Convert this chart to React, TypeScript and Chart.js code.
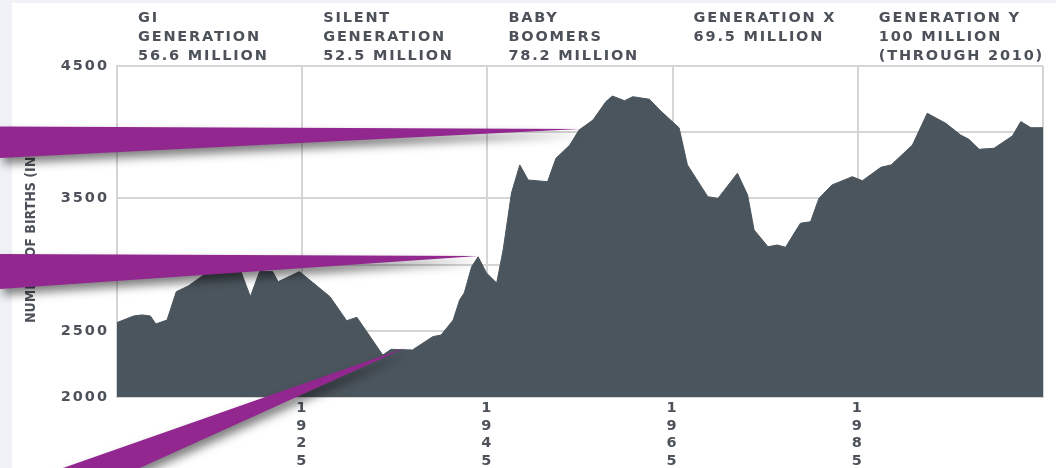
import React, { useEffect, useRef } from 'react';
import { Chart, registerables } from 'chart.js';

Chart.register(...registerables);

// ---- data ----
const years = [
  1905.0, 1906.8, 1907.7, 1908.6, 1909.2, 1910.4, 1911.4, 1912.7, 1913.6, 1914.6,
  1918.4, 1919.4, 1920.4, 1921.8, 1922.4, 1924.7, 1928.0, 1929.8, 1930.9, 1933.7,
  1934.6, 1936.9, 1939.1, 1940.0, 1941.3, 1942.0, 1942.5, 1943.3, 1944.0, 1944.9,
  1946.0, 1946.7, 1947.6, 1948.5, 1949.4, 1951.5, 1952.4, 1953.9, 1954.9, 1956.4,
  1957.8, 1958.5, 1959.8, 1960.7, 1962.5, 1963.6, 1965.7, 1966.6, 1968.8, 1969.9,
  1972.0, 1973.1, 1973.8, 1975.3, 1976.3, 1977.2, 1978.8, 1979.9, 1980.8, 1982.2,
  1984.4, 1985.5, 1987.5, 1988.6, 1990.9, 1992.5, 1994.5, 1996.1, 1997.0, 1998.1,
  1999.7, 2001.7, 2002.6, 2003.7, 2005.0,
];
const births = [
  2562, 2612, 2620, 2612, 2552, 2581, 2795, 2839, 2884, 2933,
  2945, 2758, 2947, 2947, 2871, 2947, 2758, 2576, 2602, 2317,
  2360, 2355, 2456, 2468, 2581, 2733, 2786, 2984, 3059, 2937,
  2861, 3111, 3541, 3753, 3639, 3626, 3803, 3903, 4017, 4092,
  4231, 4273, 4238, 4268, 4249, 4168, 4033, 3753, 3513, 3500,
  3690, 3526, 3262, 3135, 3148, 3131, 3312, 3324, 3500, 3601,
  3664, 3634, 3735, 3753, 3903, 4143, 4067, 3979, 3946, 3871,
  3878, 3972, 4080, 4034, 4034,
];

const yMin = 2000;
const yMax = 4500;
const yStep = 500;
const yLabeled = [2000, 2500, 3500, 4500];
const xMin = 1905;
const xMax = 2005;
const gridYears = [1905, 1925, 1945, 1965, 1985, 2005];
const labeledYears = [1925, 1945, 1965, 1985];

const generationStarts = [1905, 1925, 1945, 1965, 1985];
const generationLabels = [
  ['GI', 'GENERATION', '56.6 MILLION'],
  ['SILENT', 'GENERATION', '52.5 MILLION'],
  ['BABY', 'BOOMERS', '78.2 MILLION'],
  ['GENERATION X', '69.5 MILLION'],
  ['GENERATION Y', '100 MILLION', '(THROUGH 2010)'],
];
const yAxisTitle = 'NUMBER OF BIRTHS (IN K)';

// purple pointers: tips point at data positions
const pointerTipYears = [1955.0, 1944.0, 1936.1];
const pointerTipBirths = [4024, 3065, 2370];

const TEXT = '#4d525a';
const FILL = '#4b555d';
const GRID = '#d5d5d5';
const PURPLE = '#92278f';
const LABEL_FONT = 'bold 14.5px "DejaVu Sans", sans-serif';

const decorPlugin = {
  id: 'decor',
  beforeDraw(chart: any) {
    const ctx = chart.ctx as CanvasRenderingContext2D;
    ctx.save();
    ctx.fillStyle = '#f1f2f7';
    ctx.fillRect(0, 0, chart.width, chart.height);
    ctx.fillStyle = '#ffffff';
    ctx.fillRect(12, 3, chart.width - 12, chart.height - 3);
    ctx.restore();
    (ctx as any).letterSpacing = '2px';
  },
  afterDraw(chart: any) {
    const ctx = chart.ctx as CanvasRenderingContext2D;
    const xs = chart.scales.x;
    const ys = chart.scales.y;

    // generation labels
    ctx.save();
    (ctx as any).letterSpacing = '1.8px';
    ctx.font = LABEL_FONT;
    ctx.fillStyle = TEXT;
    ctx.textAlign = 'left';
    ctx.textBaseline = 'middle';
    generationLabels.forEach((lines, i) => {
      const x = xs.getPixelForValue(generationStarts[i]) + 21;
      lines.forEach((line, j) => {
        ctx.fillText(line, x, 18 + j * 19);
      });
    });
    ctx.restore();

    // y-axis title
    ctx.save();
    (ctx as any).letterSpacing = '0px';
    ctx.font = 'bold 14px "Liberation Sans Narrow", "DejaVu Sans Condensed", sans-serif';
    ctx.fillStyle = TEXT;
    ctx.translate(31, 323);
    ctx.rotate(-Math.PI / 2);
    ctx.textAlign = 'left';
    ctx.textBaseline = 'middle';
    ctx.fillText(yAxisTitle, 0, 0);
    ctx.restore();

    // purple pointers
    const tips = pointerTipYears.map((yr, i) => [
      xs.getPixelForValue(yr),
      ys.getPixelForValue(pointerTipBirths[i]),
    ]);
    const shapes = [
      [[0, 126.5], tips[0], [0, 158]],
      [[0, 254], tips[1], [0, 289]],
      [[0.3, 490], tips[2], [91, 490]],
    ];
    ctx.save();
    ctx.fillStyle = PURPLE;
    ctx.shadowColor = 'rgba(0,0,0,0.5)';
    ctx.shadowBlur = 10;
    ctx.shadowOffsetX = 3;
    ctx.shadowOffsetY = 6;
    shapes.forEach((pts) => {
      ctx.beginPath();
      ctx.moveTo(pts[0][0], pts[0][1]);
      ctx.lineTo(pts[1][0], pts[1][1]);
      ctx.lineTo(pts[2][0], pts[2][1]);
      ctx.closePath();
      ctx.fill();
    });
    ctx.restore();
  },
};

export default function App() {
  const canvasRef = useRef<HTMLCanvasElement | null>(null);

  useEffect(() => {
    const canvas = canvasRef.current;
    if (!canvas) return;
    const chart = new Chart(canvas, {
      type: 'line',
      data: {
        datasets: [
          {
            data: years.map((y, i) => ({ x: y, y: births[i] })),
            fill: 'start',
            backgroundColor: FILL,
            borderColor: FILL,
            borderWidth: 1,
            pointRadius: 0,
            tension: 0,
          },
        ],
      },
      options: {
        animation: false,
        responsive: false,
        layout: { padding: { top: 66, right: 13, left: 0, bottom: 0 } },
        plugins: {
          legend: { display: false },
          tooltip: { enabled: false },
        },
        scales: {
          x: {
            type: 'linear',
            min: xMin,
            max: xMax,
            afterBuildTicks: (scale: any) => {
              scale.ticks = gridYears.map((v) => ({ value: v }));
            },
            afterFit: (scale: any) => {
              scale.height = 71;
            },
            grid: { color: GRID, lineWidth: 2, drawTicks: false },
            border: { color: GRID, width: 2 },
            ticks: {
              autoSkip: false,
              maxRotation: 0,
              padding: 3,
              color: TEXT,
              font: { family: '"DejaVu Sans", sans-serif', size: 14.5, weight: 'bold', lineHeight: 1.2 },
              callback: (v: any) =>
                labeledYears.includes(Number(v)) ? String(v).split('') : '',
            },
          },
          y: {
            min: yMin,
            max: yMax,
            afterFit: (scale: any) => {
              scale.width = 117;
            },
            grid: { color: GRID, lineWidth: 2, drawTicks: false },
            border: { color: GRID, width: 2 },
            ticks: {
              stepSize: yStep,
              padding: 8,
              color: TEXT,
              font: { family: '"DejaVu Sans", sans-serif', size: 14.5, weight: 'bold' },
              callback: (v: any) => (yLabeled.includes(Number(v)) ? String(v) : ''),
            },
          },
        },
      },
      plugins: [decorPlugin],
    } as any);
    return () => chart.destroy();
  }, []);

  return (
    <div style={{ position: 'fixed', left: 0, top: 0, width: 1056, height: 468, background: '#fff' }}>
      <canvas ref={canvasRef} width={1056} height={468} style={{ display: 'block' }} />
    </div>
  );
}
